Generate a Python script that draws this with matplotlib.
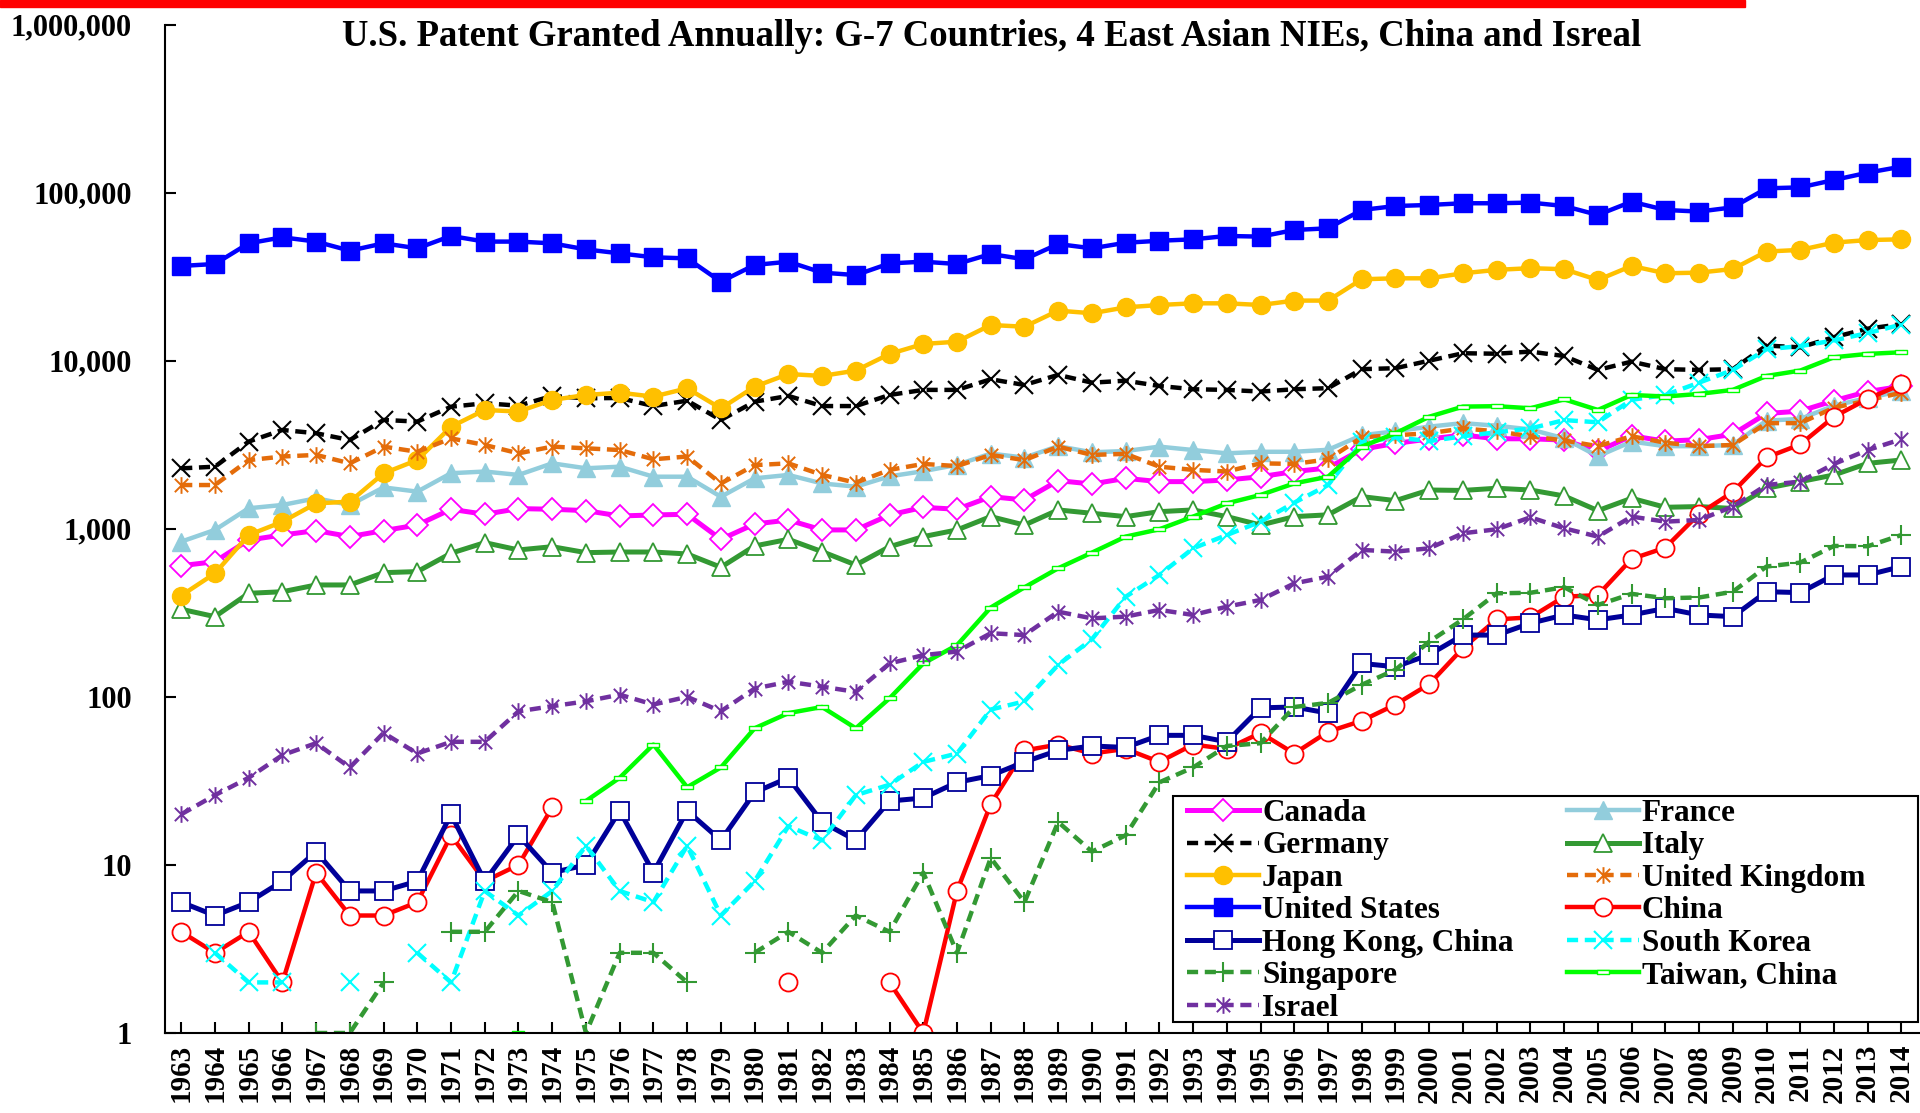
import numpy as np
import matplotlib
matplotlib.use("Agg")
import matplotlib.pyplot as plt
from matplotlib.path import Path
from matplotlib.patches import Rectangle

nan = np.nan
years = list(range(1963, 2015))

canada = [603, 637, 857, 918, 975, 898, 975, 1052, 1306, 1219,
          1318, 1306, 1282, 1191, 1208, 1219, 865, 1067, 1127, 984,
          984, 1208, 1341, 1306, 1553, 1483, 1933, 1846, 1994, 1907,
          1907, 1950, 2040, 2190, 2300, 2970, 3220, 3420, 3610, 3430,
          3430, 3370, 2890, 3570, 3320, 3390, 3650, 4850, 5010, 5780,
          6550, 7040]
france = [838, 984, 1324, 1385, 1518, 1385, 1762, 1663, 2140, 2190,
          2090, 2450, 2290, 2340, 2040, 2040, 1550, 1995, 2090, 1860,
          1780, 2050, 2200, 2400, 2800, 2650, 3100, 2850, 2900, 3080,
          2940, 2810, 2870, 2870, 2950, 3600, 3800, 4050, 4250, 4100,
          3900, 3450, 2700, 3300, 3100, 3100, 3150, 4400, 4500, 5400,
          6000, 6600]
germany = [2287, 2340, 3300, 3870, 3700, 3370, 4440, 4340, 5320, 5580,
           5400, 6170, 5970, 6000, 5370, 5780, 4440, 5700, 6170, 5370,
           5370, 6250, 6700, 6700, 7750, 7170, 8230, 7400, 7600, 7070,
           6760, 6700, 6550, 6760, 6860, 8900, 9020, 10000, 11070, 11000,
           11320, 10660, 8810, 9870, 8900, 8810, 8900, 12300, 12000, 13800,
           15500, 16500]
italy = [332, 300, 413, 422, 463, 463, 548, 556, 715, 827,
         748, 782, 721, 727, 727, 708, 590, 790, 865, 731,
         609, 782, 898, 984, 1181, 1052, 1294, 1236, 1181, 1264,
         1294, 1181, 1052, 1181, 1210, 1553, 1470, 1700, 1690, 1742,
         1700, 1567, 1282, 1518, 1342, 1355, 1320, 1742, 1907, 2090,
         2450, 2565]
japan = [400, 543, 918, 1100, 1416, 1449, 2136, 2564, 4045, 5090,
         4980, 5840, 6250, 6450, 6110, 6850, 5200, 7000, 8330, 8110,
         8730, 10960, 12570, 12970, 16300, 15920, 19850, 19140, 20760, 21440,
         21940, 21940, 21440, 22770, 22770, 30500, 30900, 30900, 33100, 34700,
         35500, 35000, 30200, 36600, 33100, 33400, 35100, 44600, 45600, 50400,
         52200, 52700]
uk = [1820, 1820, 2560, 2690, 2750, 2450, 3080, 2870, 3450, 3150,
      2810, 3080, 3010, 2940, 2590, 2690, 1860, 2390, 2450, 2090,
      1880, 2240, 2430, 2360, 2750, 2560, 3080, 2750, 2790, 2340,
      2240, 2190, 2450, 2430, 2590, 3500, 3600, 3700, 3950, 3800,
      3550, 3350, 3100, 3550, 3250, 3100, 3150, 4250, 4250, 5250,
      5800, 6450]
us = [36600, 37600, 49900, 54200, 51100, 45100, 49900, 46600, 55200, 51100,
      51100, 49900, 45900, 43500, 41200, 40600, 29500, 37100, 38800, 33400,
      32300, 37900, 38800, 37600, 43100, 40100, 49400, 46600, 50300, 51700,
      52700, 55200, 54700, 59900, 61300, 78800, 83200, 84400, 86400, 86400,
      87200, 83200, 73600, 88300, 78800, 77100, 81700, 106000, 107400, 118800,
      131400, 142700]
china = [4, 3, 4, 2, 9, 5, 5, 6, 15, 8,
         10, 22, nan, nan, nan, nan, nan, nan, 2, nan,
         nan, 2, 1, 7, 23, 48, 52, 46, 49, 41,
         52, 49, 61, 46, 62, 72, 90, 119, 195, 289,
         297, 394, 403, 661, 772, 1225, 1655, 2657, 3174, 4637,
         5928, 7236]
hongkong = [6, 5, 6, 8, 12, 7, 7, 8, 20, 8,
            15, 9, 10, 21, 9, 21, 14, 27, 33, 18,
            14, 24, 25, 31, 34, 41, 48, 51, 50, 59,
            59, 54, 86, 87, 80, 158, 151, 178, 233, 233,
            274, 307, 287, 307, 336, 307, 300, 422, 417, 531,
            531, 596]
korea = [nan, 3, 2, 2, nan, 2, nan, 3, 2, 7,
         5, 7, 13, 7, 6, 13, 5, 8, 17, 14,
         26, 30, 41, 46, 84, 94, 155, 220, 394, 531,
         765, 918, 1102, 1430, 1820, 3260, 3500, 3320, 3550, 3750,
         3950, 4430, 4300, 5850, 6250, 7400, 8800, 11700, 12200, 13200,
         14600, 16400]
singapore = [nan, nan, nan, nan, 1, 1, 2, nan, 4, 4,
             7, 6, 1, 3, 3, 2, nan, 3, 4, 3,
             5, 4, 9, 3, 11, 6, 18, 12, 15, 31,
             38, 51, 53, 87, 92, 118, 145, 213, 289, 413,
             416, 449, 352, 410, 386, 390, 422, 596, 629, 790,
             787, 918]
taiwan = [nan, nan, nan, nan, nan, nan, nan, nan, nan, nan,
          1, nan, 24, 33, 52, 29, 38, 65, 80, 87,
          65, 98, 158, 203, 340, 448, 582, 721, 898, 993,
          1181, 1416, 1589, 1862, 2040, 3080, 3700, 4640, 5330, 5360,
          5210, 5890, 5090, 6250, 6120, 6340, 6700, 8110, 8730, 10480,
          10970, 11220]
israel = [20, 26, 33, 45, 53, 38, 61, 46, 54, 54,
          82, 88, 94, 103, 90, 100, 82, 112, 123, 115,
          107, 158, 177, 186, 239, 233, 321, 293, 300, 329,
          307, 344, 377, 473, 519, 748, 731, 765, 940, 993,
          1170, 1006, 898, 1181, 1102, 1128, 1355, 1822, 1907, 2430,
          2940, 3410]

ytick_vals = [1, 10, 100, 1000, 10000, 100000, 1000000]
ytick_labels = ["1", "10", "100", "1,000", "10,000", "100,000", "1,000,000"]

# custom markers: excel-like asterisk and the small taiwan bar
ast = Path([(0, -1), (0, 1), (-0.8, -0.8), (0.8, 0.8), (-0.8, 0.8), (0.8, -0.8)],
           [Path.MOVETO, Path.LINETO] * 3)
bar = Path([(-1, -0.35), (1, -0.35), (1, 0.35), (-1, 0.35), (-1, -0.35)],
           [Path.MOVETO, Path.LINETO, Path.LINETO, Path.LINETO, Path.CLOSEPOLY])

dash = (0, (2.5, 1.5))
series = [
    ("Canada", canada, dict(color="#FF00FF", lw=3.6, ls="-", marker="D", ms=11, mfc="white", mec="#FF00FF", mew=1.3)),
    ("France", france, dict(color="#92CDDC", lw=3.2, ls="-", marker="^", ms=13, mfc="#92CDDC", mec="#92CDDC", mew=1)),
    ("Germany", germany, dict(color="black", lw=3.2, ls=dash, marker="x", ms=13, mec="black", mew=1.5)),
    ("Italy", italy, dict(color="#339933", lw=3.6, ls="-", marker="^", ms=13, mfc="white", mec="#339933", mew=1.3)),
    ("Japan", japan, dict(color="#FFC000", lw=3.2, ls="-", marker="o", ms=13, mfc="#FFC000", mec="#FFC000")),
    ("United Kingdom", uk, dict(color="#E46C0A", lw=3.2, ls=dash, marker=ast, ms=12, mfc="none", mec="#E46C0A", mew=1.4)),
    ("United States", us, dict(color="#0000FF", lw=3.2, ls="-", marker="s", ms=13, mfc="#0000FF", mec="#0000FF")),
    ("China", china, dict(color="#FF0000", lw=3.2, ls="-", marker="o", ms=13, mfc="white", mec="#FF0000", mew=1.3)),
    ("Hong Kong, China", hongkong, dict(color="#000099", lw=3.6, ls="-", marker="s", ms=13, mfc="white", mec="#000099", mew=1.3)),
    ("South Korea", korea, dict(color="#00FFFF", lw=3.2, ls=dash, marker="x", ms=13, mec="#00FFFF", mew=1.5)),
    ("Singapore", singapore, dict(color="#339933", lw=3.2, ls=dash, marker="+", ms=14, mec="#339933", mew=1.5)),
    ("Taiwan, China", taiwan, dict(color="#00FF00", lw=3.2, ls="-", marker=bar, ms=8, mfc="white", mec="#00FF00", mew=1)),
    ("Israel", israel, dict(color="#7030A0", lw=3.2, ls=dash, marker=ast, ms=12, mfc="none", mec="#7030A0", mew=1.4)),
]

plt.rcParams["font.family"] = ["Liberation Serif", "DejaVu Serif"]
plt.rcParams["font.weight"] = "bold"

fig = plt.figure(figsize=(19.2, 11.13), dpi=100)
ax = fig.add_axes([165 / 1920, 80 / 1113, 1755 / 1920, 1008.5 / 1113])

lines = {}
for name, vals, st in series:
    ln, = ax.plot(years, vals, label=name, **st)
    lines[name] = ln

ax.set_yscale("log")
ax.set_ylim(1, 1e6)
ax.set_xlim(1962.52, 2014.55)
ax.set_yticks(ytick_vals)
ax.set_yticklabels(ytick_labels)
ax.minorticks_off()
ax.set_xticks(years)
ax.set_xticklabels([str(y) for y in years], rotation=90)
ax.tick_params(axis="y", direction="in", length=8, width=1.5, pad=24, labelsize=22)
ax.tick_params(axis="x", direction="in", length=8, width=1.5, pad=8, labelsize=21)
for lab in ax.get_xticklabels() + ax.get_yticklabels():
    lab.set_fontweight("bold")
ax.spines["top"].set_visible(False)
ax.spines["right"].set_visible(False)
ax.spines["left"].set_linewidth(1.5)
ax.spines["bottom"].set_linewidth(1.5)

# legend box is wider than its contents in the original, so draw the frame separately
fig.patches.append(Rectangle((1173 / 1920, 1 - 1022 / 1113), 745 / 1920, 226 / 1113,
                             transform=fig.transFigure, facecolor="white",
                             edgecolor="black", linewidth=1.5, zorder=4.9))

order = ["Canada", "Germany", "Japan", "United States", "Hong Kong, China", "Singapore", "Israel",
         "France", "Italy", "United Kingdom", "China", "South Korea", "Taiwan, China"]
leg = fig.legend([lines[n] for n in order], order, ncol=2, loc="upper left",
                 bbox_to_anchor=(1187 / 1920, 1 - 799 / 1113), borderaxespad=0, numpoints=1,
                 prop={"family": "Liberation Serif", "weight": "bold", "size": 22.5},
                 handlelength=2.3, handletextpad=0.1, columnspacing=1.7,
                 labelspacing=0.11, borderpad=0, frameon=False)

fig.text(992 / 1920, 1 - 37 / 1113,
         "U.S. Patent Granted Annually: G-7 Countries, 4 East Asian NIEs, China and Isreal",
         ha="center", va="center", fontsize=26.5, fontweight="bold")

fig.patches.append(Rectangle((0, 1 - 7 / 1113), 1745 / 1920, 7 / 1113,
                             transform=fig.transFigure, color="#FF0000", zorder=5))

fig.savefig("out.png", dpi=100)
